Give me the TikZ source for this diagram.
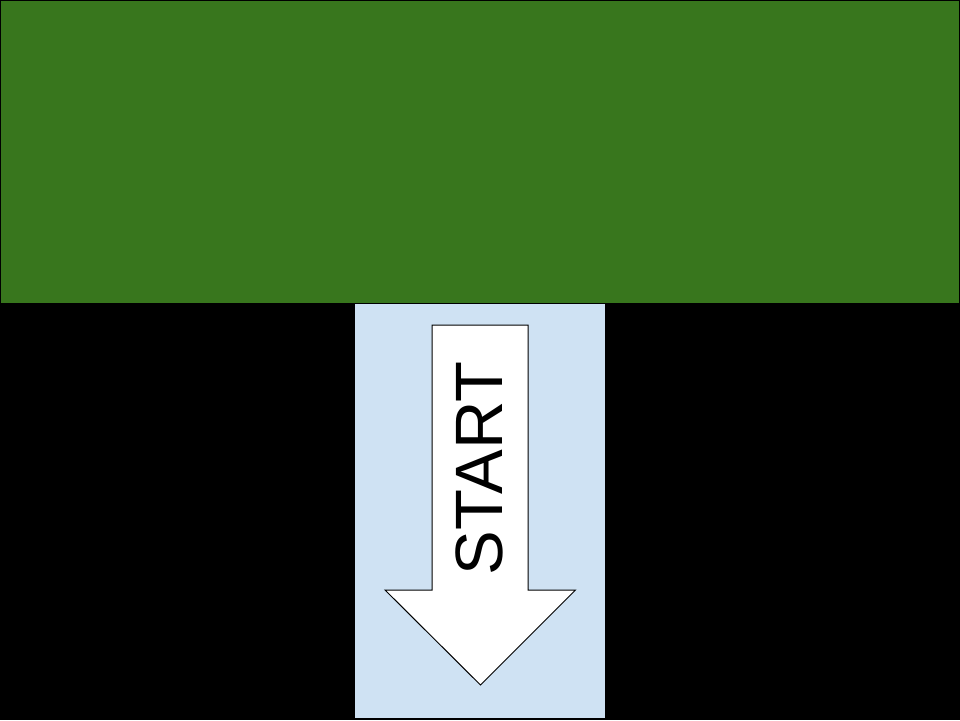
\documentclass[tikz,border=0pt]{standalone}
\usepackage{fontspec}
\setmainfont{Liberation Sans}
\usetikzlibrary{positioning}
\definecolor{grass}{HTML}{38761D}
\definecolor{lane}{HTML}{CFE2F3}
\tikzset{bigtxt/.style={font=\fontsize{67}{67}\selectfont,inner sep=0pt}}

\begin{document}
\begin{tikzpicture}[x=1pt,y=-1pt,line join=miter,line width=1pt]
\useasboundingbox (0,0) rectangle (960,720);
% --- background and green field
\fill[black] (0,0) rectangle (960,720);
\draw[fill=grass] (0.5,0.5) rectangle (959.5,303);
% --- light blue lane with the start arrow
\fill[lane] (355,303.5) rectangle (605,717.5);
\draw[fill=white] (432,325) -- (528,325) -- (528,590) -- (575.5,590) -- (480.5,685) -- (385,590) -- (432,590) -- cycle;
\node[bigtxt,rotate=90] (start) at (479.5,468.5) {START};
\end{tikzpicture}
\end{document}
